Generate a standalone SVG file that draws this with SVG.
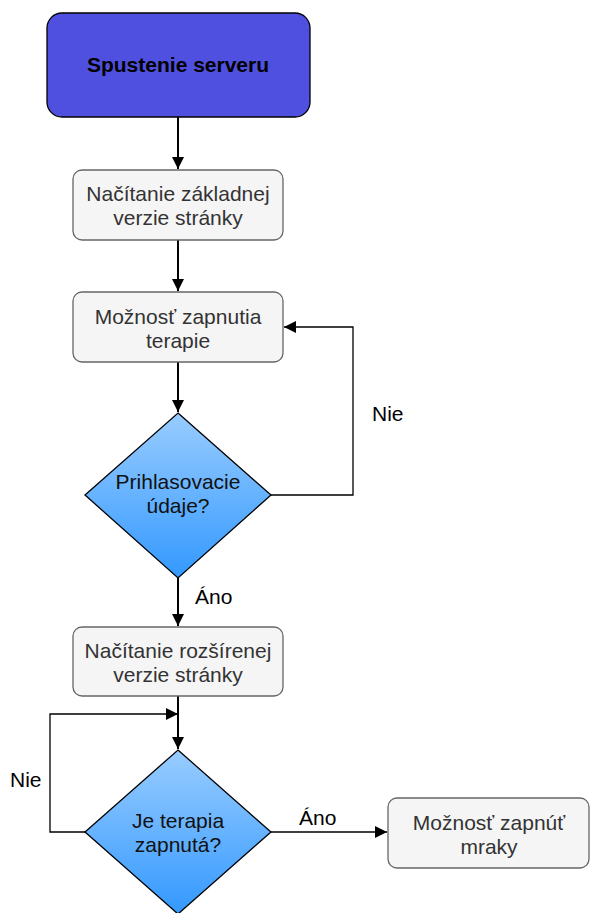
<svg xmlns="http://www.w3.org/2000/svg" width="591" height="913" viewBox="0 0 591 913">
<defs>
<linearGradient id="dg" x1="0" y1="0" x2="0" y2="1">
<stop offset="0" stop-color="#99ccff"/>
<stop offset="1" stop-color="#3399ff"/>
</linearGradient>
<marker id="ah" viewBox="0 0 10 10" refX="10" refY="5" markerWidth="12" markerHeight="12" markerUnits="userSpaceOnUse" orient="auto">
<path d="M0,0 L10,5 L0,10 z" fill="#000"/>
</marker>
<style>
.box{fill:#f5f5f5;stroke:#666;stroke-width:1.3}
.dia{fill:url(#dg);stroke:#000;stroke-width:1.3}
.t{font-family:"Liberation Sans",Arial,sans-serif;font-size:21px;text-anchor:middle;fill:#333}
.td{font-family:"Liberation Sans",Arial,sans-serif;font-size:21px;text-anchor:middle;fill:#111}
.lbl{font-family:"Liberation Sans",Arial,sans-serif;font-size:21px;fill:#000}
.c{fill:none;stroke:#000;stroke-width:1.3}
.cv{fill:none;stroke:#000;stroke-width:2}
</style>
</defs>
<g id="connectors">
<path class="cv" d="M178,117 V169" marker-end="url(#ah)"/>
<path class="cv" d="M178,240 V291" marker-end="url(#ah)"/>
<path class="cv" d="M178,362 V412" marker-end="url(#ah)"/>
<path class="c" d="M271,495 H353 V327 H284" marker-end="url(#ah)"/>
<path class="cv" d="M178,578 V626" marker-end="url(#ah)"/>
<path class="cv" d="M178,696 V749" marker-end="url(#ah)"/>
<path class="c" d="M85,832 H50 V714 H178" marker-end="url(#ah)"/>
<path class="c" d="M271,832 H387" marker-end="url(#ah)"/>
<text class="lbl" x="372" y="421">Nie</text>
<text class="lbl" x="195" y="604">Áno</text>
<text class="lbl" x="10" y="787">Nie</text>
<text class="lbl" x="299" y="825">Áno</text>
</g>
<g id="start">
<rect x="47" y="13" width="263" height="104" rx="15" fill="#5050e0" stroke="#000" stroke-width="1.3"/>
<text x="178" y="72" font-family="Liberation Sans, Arial, sans-serif" font-size="21" font-weight="bold" text-anchor="middle" fill="#000">Spustenie serveru</text>
</g>
<g id="zakladna">
<rect class="box" x="73" y="170" width="210" height="70" rx="9"/>
<text class="t" x="178" y="201">Načítanie základnej</text>
<text class="t" x="178" y="225">verzie stránky</text>
</g>
<g id="terapia">
<rect class="box" x="73" y="292" width="210" height="70" rx="9"/>
<text class="t" x="178" y="324">Možnosť zapnutia</text>
<text class="t" x="178" y="348">terapie</text>
</g>
<g id="prihlasovacie">
<path class="dia" d="M178,413 L271,495 L178,578 L85,495 Z"/>
<text class="td" x="178" y="489">Prihlasovacie</text>
<text class="td" x="178" y="513">údaje?</text>
</g>
<g id="rozsirena">
<rect class="box" x="73" y="627" width="210" height="69" rx="9"/>
<text class="t" x="178" y="658">Načítanie rozšírenej</text>
<text class="t" x="178" y="682">verzie stránky</text>
</g>
<g id="zapnuta">
<path class="dia" d="M178,750 L271,832 L178,914 L85,832 Z"/>
<text class="td" x="178" y="828">Je terapia</text>
<text class="td" x="178" y="852">zapnutá?</text>
</g>
<g id="mraky">
<rect class="box" x="388" y="798" width="201" height="70" rx="9"/>
<text class="t" x="489" y="830">Možnosť zapnúť</text>
<text class="t" x="489" y="854">mraky</text>
</g>
</svg>
